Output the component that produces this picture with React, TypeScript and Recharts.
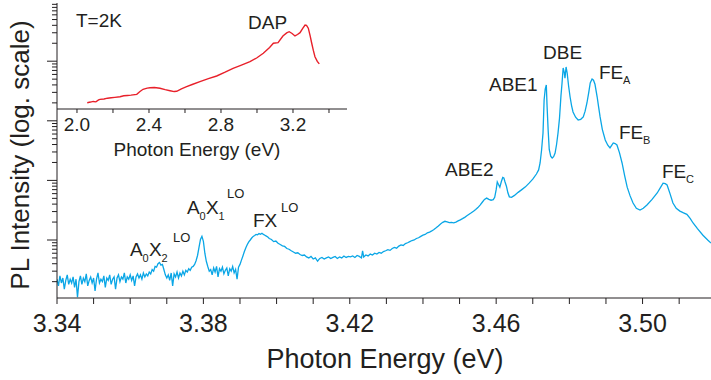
import { Line, LineChart, XAxis, YAxis } from 'recharts';

// Main spectrum, [photon energy (eV), PL intensity (arb. units)]
const noiseFloor: [number, number][] = [
  [3.34, 2.2], [3.3404, 1.7], [3.3408, 2.5], [3.3412, 1.9], [3.3416, 2.3], [3.342, 1.5],
  [3.3424, 2.1], [3.3428, 2.6], [3.3432, 1.8], [3.3436, 2.2], [3.344, 1.9], [3.3444, 2.4],
  [3.3448, 1.6], [3.3452, 2.2], [3.3456, 1.1], [3.346, 2.0], [3.3464, 2.5], [3.3468, 1.8],
  [3.3472, 2.3], [3.3476, 2.0], [3.348, 2.7], [3.3484, 1.7], [3.3488, 2.1], [3.3492, 2.4],
  [3.3496, 1.9], [3.35, 2.3], [3.3504, 1.4], [3.3508, 2.2], [3.3512, 2.8], [3.3516, 1.9],
  [3.352, 2.2], [3.3524, 2.0], [3.3528, 2.5], [3.3532, 1.6], [3.3536, 2.3], [3.354, 2.1],
  [3.3544, 2.6], [3.3548, 1.8], [3.3552, 2.2], [3.3556, 2.4], [3.356, 1.5], [3.3564, 2.3],
  [3.3568, 2.6], [3.3572, 2.0], [3.3576, 2.4], [3.358, 2.2], [3.3584, 2.8], [3.3588, 1.9],
  [3.3592, 2.4], [3.3596, 2.2], [3.36, 2.6], [3.3604, 2.1], [3.3608, 2.5], [3.3612, 1.7],
  [3.3616, 2.4], [3.362, 2.7], [3.3624, 2.3], [3.3628, 2.6], [3.3632, 2.2], [3.3636, 2.8],
  [3.364, 2.4], [3.3644, 2.7], [3.3648, 2.5],
];

const loReplicas: [number, number][] = [
  [3.3652, 2.9], [3.3656, 2.7], [3.366, 3.2], [3.3664, 3.0], [3.3668, 3.6], [3.3672, 3.5],
  [3.3676, 4.0], [3.368, 4.2], [3.3684, 3.8], [3.3688, 3.9], [3.3692, 3.2], [3.3696, 2.6],
  [3.37, 2.3], [3.3704, 2.6], [3.3708, 2.1], [3.3712, 2.8], [3.3716, 1.7], [3.372, 2.7],
  [3.3724, 2.4], [3.3728, 2.9], [3.3732, 2.3], [3.3736, 2.8], [3.374, 2.5], [3.3744, 3.0],
  [3.3748, 2.6], [3.3752, 3.1], [3.3756, 2.9], [3.376, 3.3], [3.3764, 3.1], [3.3768, 3.5],
  [3.3772, 3.6], [3.3776, 3.9], [3.378, 4.5], [3.3784, 5.5], [3.3788, 7.5], [3.3792, 10.2],
  [3.3796, 11.5], [3.38, 9.5], [3.3804, 6.0], [3.3808, 4.4], [3.3812, 3.6], [3.3816, 3.0],
  [3.382, 3.2], [3.3824, 2.6], [3.3828, 3.4], [3.3832, 2.9], [3.3836, 3.6], [3.384, 2.4],
  [3.3844, 3.3], [3.3848, 3.0], [3.3852, 3.5], [3.3856, 2.7], [3.386, 3.1], [3.3864, 3.4],
  [3.3868, 2.5], [3.3872, 3.3], [3.3876, 3.0], [3.388, 3.6], [3.3884, 2.8], [3.3888, 3.2],
  [3.3892, 2.2], [3.3896, 3.5], [3.39, 3.9], [3.3904, 4.6], [3.3908, 5.4], [3.3912, 6.4],
  [3.3916, 7.4], [3.392, 8.4], [3.3924, 9.3], [3.3928, 10.0], [3.3932, 10.8], [3.3936, 11.5],
  [3.394, 11.9], [3.3944, 12.4], [3.3948, 12.2], [3.3952, 12.8], [3.3956, 12.5], [3.396, 13.0],
  [3.3964, 12.4], [3.3968, 12.0], [3.3972, 11.6], [3.3976, 11.2], [3.398, 10.6],
];

const bandTail: [number, number][] = [
  [3.3986, 10.2], [3.3992, 9.4], [3.3998, 9.6], [3.4004, 8.8], [3.401, 8.4], [3.4016, 8.0],
  [3.4022, 7.8], [3.4028, 7.2], [3.4034, 7.0], [3.404, 6.6], [3.4046, 6.3], [3.4052, 6.0],
  [3.4058, 6.1], [3.4064, 5.7], [3.407, 5.5], [3.4076, 5.6], [3.4082, 5.2], [3.4088, 5.0],
  [3.4094, 5.3], [3.41, 4.8], [3.4106, 5.0], [3.4112, 4.4], [3.4118, 4.9], [3.4124, 5.1],
  [3.413, 4.8], [3.4136, 5.0], [3.4142, 5.2], [3.4148, 4.9], [3.4154, 5.1], [3.416, 5.3],
  [3.4166, 4.9], [3.4172, 5.2], [3.4178, 5.0], [3.4184, 5.4], [3.419, 5.1], [3.4196, 5.3],
  [3.4202, 5.2], [3.4208, 5.4], [3.4214, 5.1], [3.422, 5.5], [3.4226, 5.3], [3.4232, 5.0],
  [3.4235, 6.6], [3.4238, 5.2], [3.4244, 5.6], [3.425, 5.4], [3.4256, 5.8], [3.4262, 5.6],
  [3.4268, 6.0], [3.4274, 5.8], [3.428, 6.2], [3.4286, 6.0], [3.4292, 6.4], [3.4298, 6.6],
  [3.4304, 6.9], [3.431, 6.7], [3.4316, 7.2], [3.4322, 7.5], [3.4328, 7.3], [3.4334, 7.9],
  [3.434, 8.3], [3.4346, 8.1], [3.4352, 8.7], [3.4358, 9.0], [3.4364, 9.4], [3.437, 9.8],
  [3.4376, 10.0], [3.4382, 10.6], [3.4388, 10.9], [3.4394, 11.5], [3.44, 12.1], [3.4406, 12.4],
  [3.4412, 13.2], [3.4418, 13.6], [3.4424, 14.2], [3.443, 15.0], [3.4436, 16.0], [3.4442, 17.2],
  [3.4448, 18.6], [3.4454, 19.8], [3.446, 20.6], [3.4466, 20.2], [3.4472, 19.6], [3.4478, 19.8],
  [3.4484, 19.4], [3.449, 20.0], [3.4496, 20.9], [3.4502, 21.8], [3.4508, 22.8], [3.4514, 24.0],
  [3.452, 25.5], [3.4526, 27.0], [3.4532, 28.6], [3.4538, 30.4], [3.4544, 32.5], [3.455, 35.0],
  [3.4556, 38.5], [3.4562, 43], [3.4568, 48], [3.4574, 50.5], [3.458, 48], [3.4586, 46.5],
  [3.4592, 47.5],
];

const nearEdge: [number, number][] = [
  [3.4596, 52], [3.46, 70], [3.4603, 94], [3.4606, 86], [3.461, 77], [3.4614, 95],
  [3.4618, 112], [3.4621, 110], [3.4624, 95], [3.4628, 80], [3.4632, 62], [3.4636, 53],
  [3.4642, 52], [3.465, 56], [3.466, 63], [3.467, 70], [3.468, 78], [3.469, 90],
  [3.47, 105], [3.471, 128], [3.4716, 150], [3.472, 196], [3.4724, 320], [3.4728, 624],
  [3.4731, 2235], [3.4734, 3400], [3.4737, 3990], [3.4739, 1800], [3.4742, 700], [3.4745, 330],
  [3.4749, 255], [3.4753, 238], [3.4757, 250], [3.4761, 288], [3.4765, 400], [3.4769, 624],
  [3.4773, 1100], [3.4777, 2600], [3.478, 4310], [3.4783, 7690], [3.4786, 6500], [3.4788, 5200],
  [3.4791, 8000], [3.4794, 6340], [3.4798, 3800], [3.4802, 2506], [3.4806, 1800], [3.481, 1406],
  [3.4817, 1150], [3.4824, 1030], [3.4831, 1060], [3.4838, 1160], [3.4843, 1450], [3.4848, 1990],
  [3.4853, 3000], [3.4857, 4310], [3.4862, 5030], [3.4866, 4800], [3.487, 4100], [3.4876, 2506],
  [3.488, 1700], [3.4884, 1160], [3.489, 720], [3.4898, 477], [3.4905, 390], [3.4911, 350],
  [3.4916, 390], [3.492, 425], [3.4925, 415], [3.493, 393], [3.4937, 290], [3.4944, 196],
  [3.4951, 120], [3.4958, 77], [3.4966, 55], [3.4974, 41.8], [3.4983, 34], [3.4993, 31.9],
  [3.5002, 34], [3.5012, 38.7], [3.5026, 48], [3.504, 61.5], [3.505, 78], [3.5056, 90],
  [3.5062, 88], [3.5067, 83.7], [3.5075, 60], [3.5083, 41.8], [3.5092, 34], [3.5102, 30.5],
  [3.5112, 28.5], [3.5121, 27], [3.513, 23], [3.5138, 19.3], [3.515, 15.5], [3.5165, 12],
  [3.5178, 10], [3.5187, 8.9],
];

// Inset: broad DAP band
const dapSpectrum: [number, number][] = [
  [2.057, 1.58], [2.075, 1.64], [2.09, 1.7], [2.105, 1.66], [2.12, 1.85], [2.128, 1.92],
  [2.15, 1.95], [2.17, 2.05], [2.19, 2.1], [2.21, 2.15], [2.239, 2.23], [2.26, 2.35],
  [2.28, 2.4], [2.3, 2.45], [2.332, 2.56], [2.35, 3.0], [2.367, 3.42], [2.39, 3.65],
  [2.406, 3.75], [2.43, 3.8], [2.461, 3.62], [2.49, 3.35], [2.517, 3.15], [2.54, 3.0],
  [2.554, 3.05], [2.58, 3.5], [2.609, 3.97], [2.64, 4.5], [2.683, 5.3], [2.73, 6.3],
  [2.776, 7.35], [2.82, 9.0], [2.867, 11.4], [2.91, 13.5], [2.961, 16.7], [3.0, 21],
  [3.035, 27.2], [3.07, 38], [3.091, 48.3], [3.117, 50], [3.144, 73.5], [3.165, 88],
  [3.179, 94], [3.195, 85], [3.211, 73.5], [3.225, 80], [3.239, 89], [3.255, 115],
  [3.267, 138], [3.275, 135], [3.285, 115], [3.295, 75], [3.304, 48.3], [3.313, 32],
  [3.322, 22.3], [3.335, 17], [3.346, 14.7],
];

const xTicks = [3.34, 3.35, 3.36, 3.37, 3.38, 3.39, 3.4, 3.41, 3.42, 3.43, 3.44, 3.45, 3.46, 3.47, 3.48, 3.49, 3.5, 3.51];
const xLabels = [3.34, 3.38, 3.42, 3.46, 3.5];
const yDecades = [10, 100, 1000, 10000];
const yTicks = [
  2, 3, 4, 5, 6, 7, 8, 9, 10, 20, 30, 40, 50, 60, 70, 80, 90, 100, 200, 300, 400, 500, 600, 700, 800, 900,
  1000, 2000, 3000, 4000, 5000, 6000, 7000, 8000, 9000, 10000, 20000, 30000, 40000, 50000, 60000, 70000,
  80000, 90000,
];
const insetXTicks = [2.0, 2.2, 2.4, 2.6, 2.8, 3.0, 3.2, 3.4];
const insetXLabels = [2.0, 2.4, 2.8, 3.2];
const insetYTicks = [10, 100];

const INK = '#231f20';
const FONT = '"Liberation Sans", Arial, Helvetica, sans-serif';

const mainData = [...noiseFloor, ...loReplicas, ...bandTail, ...nearEdge].map(([e, i]) => ({ e, i }));
const insetData = dapSpectrum.map(([e, i]) => ({ e, i }));

const near = (list: number[], v: number) => list.some((t) => Math.abs(t - v) < 1e-6);

function LogTick(props: any) {
  const { x, y, payload } = props;
  const len = near(yDecades, payload.value) ? 10 : 5;
  return <line x1={x - len} x2={x} y1={y} y2={y} stroke={INK} strokeWidth={1} />;
}

function InsetRightTick(props: any) {
  const { x, y } = props;
  return <line x1={x - 4} x2={x} y1={y} y2={y} stroke={INK} strokeWidth={1} />;
}

export default function App() {
  return (
    <div style={{ position: 'absolute', left: 0, top: 0, width: 711, height: 380, background: '#fff', fontFamily: FONT }}>
      <div style={{ position: 'absolute', left: 0, top: 0 }}>
        <LineChart width={711} height={380} data={mainData} margin={{ top: 3, right: 0, bottom: 0, left: 0 }}>
          <XAxis
            dataKey="e"
            type="number"
            domain={[3.34, 3.5187]}
            allowDataOverflow
            ticks={xTicks}
            interval={0}
            tickFormatter={(v: number) => (near(xLabels, v) ? v.toFixed(2) : '')}
            height={82}
            tickSize={6}
            tickMargin={10}
            stroke={INK}
            tick={{ fontSize: 25, fill: INK, fontFamily: FONT }}
          />
          <YAxis
            type="number"
            scale="log"
            domain={[1.064, 94740]}
            allowDataOverflow
            ticks={yTicks}
            interval={0}
            width={57}
            tickSize={0}
            tickMargin={0}
            tickLine={false}
            stroke={INK}
            tick={<LogTick />}
          />
          <Line type="linear" dataKey="i" stroke="#0aa6e6" strokeWidth={1.3} dot={false} isAnimationActive={false} />
        </LineChart>
      </div>

      <div style={{ position: 'absolute', left: 0, top: 0 }}>
        <LineChart width={360} height={170} data={insetData} margin={{ top: 3, right: 13, bottom: 0, left: 57 }}>
          <XAxis
            xAxisId="b"
            dataKey="e"
            type="number"
            domain={[1.889, 3.5]}
            allowDataOverflow
            ticks={insetXTicks}
            interval={0}
            tickFormatter={(v: number) => (near(insetXLabels, v) ? v.toFixed(1) : '')}
            height={61}
            tickSize={4}
            tickMargin={5}
            stroke={INK}
            tick={{ fontSize: 19, fill: INK, fontFamily: FONT }}
          />
          <XAxis xAxisId="t" orientation="top" type="number" domain={[1.889, 3.5]} height={0} tick={false} tickLine={false} stroke={INK} />
          <YAxis yAxisId="l" orientation="left" type="number" scale="log" domain={[1.1, 490]} width={0} tick={false} tickLine={false} stroke={INK} />
          <YAxis
            yAxisId="r"
            orientation="right"
            type="number"
            scale="log"
            domain={[1.1, 490]}
            allowDataOverflow
            ticks={insetYTicks}
            width={0}
            tickSize={0}
            tickMargin={0}
            tickLine={false}
            stroke={INK}
            tick={<InsetRightTick />}
          />
          <Line xAxisId="b" yAxisId="r" type="linear" dataKey="i" stroke="#e8202a" strokeWidth={1.4} dot={false} isAnimationActive={false} />
        </LineChart>
      </div>

      <svg width={711} height={380} style={{ position: 'absolute', left: 0, top: 0, pointerEvents: 'none' }} fontFamily={FONT} fill={INK}>
        {/* axis titles */}
        <text x={385} y={368} fontSize={27} textAnchor="middle">Photon Energy (eV)</text>
        <text transform="translate(29,155) rotate(-90)" fontSize={26} textAnchor="middle">PL Intensity (log. scale)</text>
        <text x={197} y={156} fontSize={19} textAnchor="middle">Photon Energy (eV)</text>

        {/* inset labels */}
        <text x={76} y={27} fontSize={19}>T=2K</text>
        <text x={248} y={29} fontSize={19}>DAP</text>

        {/* peak labels */}
        <text x={130} y={256} fontSize={19}>A</text>
        <text x={142.5} y={262} fontSize={11}>0</text>
        <text x={149} y={256} fontSize={19}>X</text>
        <text x={161.5} y={262} fontSize={11}>2</text>
        <text x={173} y={242} fontSize={13}>LO</text>

        <text x={187} y={214} fontSize={19}>A</text>
        <text x={199.5} y={220} fontSize={11}>0</text>
        <text x={206} y={214} fontSize={19}>X</text>
        <text x={218.5} y={220} fontSize={11}>1</text>
        <text x={227} y={198} fontSize={13}>LO</text>

        <text x={253} y={227} fontSize={19}>FX</text>
        <text x={281} y={212} fontSize={13}>LO</text>

        <text x={445} y={176} fontSize={19}>ABE2</text>
        <text x={489} y={91} fontSize={19}>ABE1</text>
        <text x={543} y={59} fontSize={19}>DBE</text>

        <text x={599} y={79} fontSize={19}>FE</text>
        <text x={623} y={84} fontSize={11}>A</text>
        <text x={619} y={139} fontSize={19}>FE</text>
        <text x={643} y={144} fontSize={11}>B</text>
        <text x={662} y={178} fontSize={19}>FE</text>
        <text x={686} y={183} fontSize={11}>C</text>
      </svg>
    </div>
  );
}
